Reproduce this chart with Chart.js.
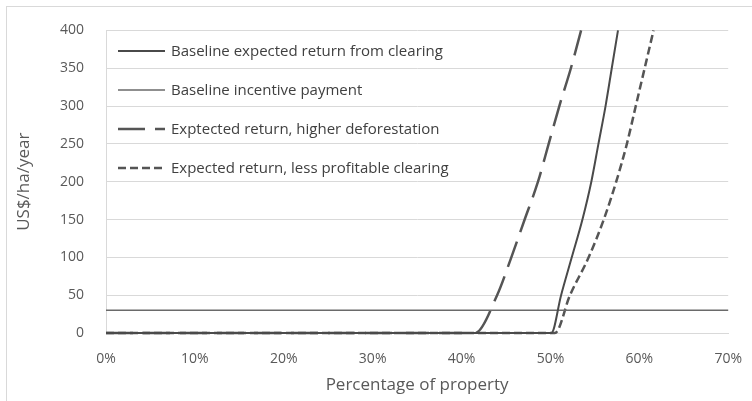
<!DOCTYPE html>
<html>
<head>
<meta charset="utf-8">
<script src="https://cdn.jsdelivr.net/npm/chart.js@4.4.1/dist/chart.umd.min.js"></script>
<style>
  html, body { margin: 0; padding: 0; background: #fff; overflow: hidden; }
  #wrap { position: relative; width: 752px; height: 401px; }
  #frame { position: absolute; left: 6px; top: 6px; width: 800px; height: 450px; border: 1px solid #d9d9d9; }
  canvas { position: absolute; left: 0; top: 0; }
</style>
</head>
<body>
<div id="wrap">
  <div id="frame"></div>
  <canvas id="chart" width="752" height="401"></canvas>
</div>
<script>
// Values (x = % of property, y = US$/ha/year)
const seriesNames = [
  'Baseline expected return from clearing',
  'Baseline incentive payment',
  'Exptected return, higher deforestation',
  'Expected return, less profitable clearing'
];
const curveValues    = [0, 0, 50, 100, 150, 200, 250, 300, 350, 400];
const baselinePct    = [0, 50.1, 51.2, 52.4, 53.6, 54.6, 55.4, 56.2, 56.9, 57.6];
const incentivePct   = [0, 70];
const incentiveVals  = [30, 30];
const higherDefPct   = [0, 41.5, 44.0, 45.6, 47.1, 48.6, 49.8, 51.0, 52.3, 53.45];
const lessProfitPct  = [0, 50.5, 52.2, 54.3, 56.0, 57.4, 58.6, 59.6, 60.6, 61.6];
const xTicks = [0, 10, 20, 30, 40, 50, 60, 70];
const yTicks = [0, 50, 100, 150, 200, 250, 300, 350, 400];

const FONT = '"Open Sans", "DejaVu Sans", sans-serif';

function pts(xs, ys) {
  return xs.map((x, i) => ({ x: x, y: ys[i] }));
}

// Legend drawn inside the plot, Excel style (line sample then label)
const insideLegend = {
  id: 'insideLegend',
  afterDatasetsDraw(chart) {
    const ctx = chart.ctx;
    const rows = [51, 90, 129, 168];
    ctx.save();
    ctx.font = '15px ' + FONT;
    ctx.textBaseline = 'middle';
    chart.data.datasets.forEach((ds, i) => {
      const y = rows[i];
      ctx.strokeStyle = ds.borderColor;
      ctx.lineWidth = ds.borderWidth;
      ctx.setLineDash(ds.borderDash || []);
      ctx.beginPath();
      ctx.moveTo(118, y);
      ctx.lineTo(165, y);
      ctx.stroke();
      ctx.setLineDash([]);
      ctx.fillStyle = '#404040';
      ctx.fillText(ds.label, 171, y + 1);
    });
    ctx.restore();
  }
};

const datasets = [
  {
    label: seriesNames[0],
    data: pts(baselinePct, curveValues),
    borderColor: '#4a4a4a', borderWidth: 2, borderDash: [],
  },
  {
    label: seriesNames[1],
    data: pts(incentivePct, incentiveVals),
    borderColor: '#6a6a6a', borderWidth: 1.5, borderDash: [],
  },
  {
    label: seriesNames[2],
    data: pts(higherDefPct, curveValues),
    borderColor: '#555555', borderWidth: 2.5, borderDash: [27, 10],
  },
  {
    label: seriesNames[3],
    data: pts(lessProfitPct, curveValues),
    borderColor: '#555555', borderWidth: 2.5, borderDash: [8, 4],
  },
];
datasets.forEach(d => {
  d.pointRadius = 0;
  d.fill = false;
  d.cubicInterpolationMode = 'monotone';
  d.clip = 4;
});

new Chart(document.getElementById('chart'), {
  type: 'line',
  data: { datasets },
  options: {
    responsive: false,
    animation: false,
    events: [],
    layout: { padding: { left: 14, top: 28, right: 22, bottom: 0 } },
    plugins: { legend: { display: false }, tooltip: { enabled: false } },
    scales: {
      x: {
        type: 'linear', min: 0, max: 70,
        afterBuildTicks: s => { s.ticks = xTicks.map(v => ({ value: v })); },
        afterFit: s => { s.height = 68; },
        ticks: {
          padding: 10, color: '#595959',
          font: { family: FONT, size: 14 },
          callback: v => v + '%',
        },
        grid: { display: false },
        border: { display: true, color: '#d9d9d9' },
        title: {
          display: true, text: 'Percentage of property', color: '#595959',
          font: { family: FONT, size: 17 }, padding: { top: 4, bottom: 6 },
        },
      },
      y: {
        min: 0, max: 400,
        afterBuildTicks: s => { s.ticks = yTicks.map(v => ({ value: v })); },
        afterFit: s => { s.width = 92; },
        ticks: {
          padding: 22, color: '#595959',
          font: { family: FONT, size: 14 },
        },
        grid: { color: '#d9d9d9', drawTicks: false },
        border: { display: true, color: '#d9d9d9' },
        title: {
          display: true, text: 'US$/ha/year', color: '#595959',
          font: { family: FONT, size: 17 }, padding: { top: 0, bottom: 0 },
        },
      },
    },
  },
  plugins: [insideLegend],
});
</script>
</body>
</html>
